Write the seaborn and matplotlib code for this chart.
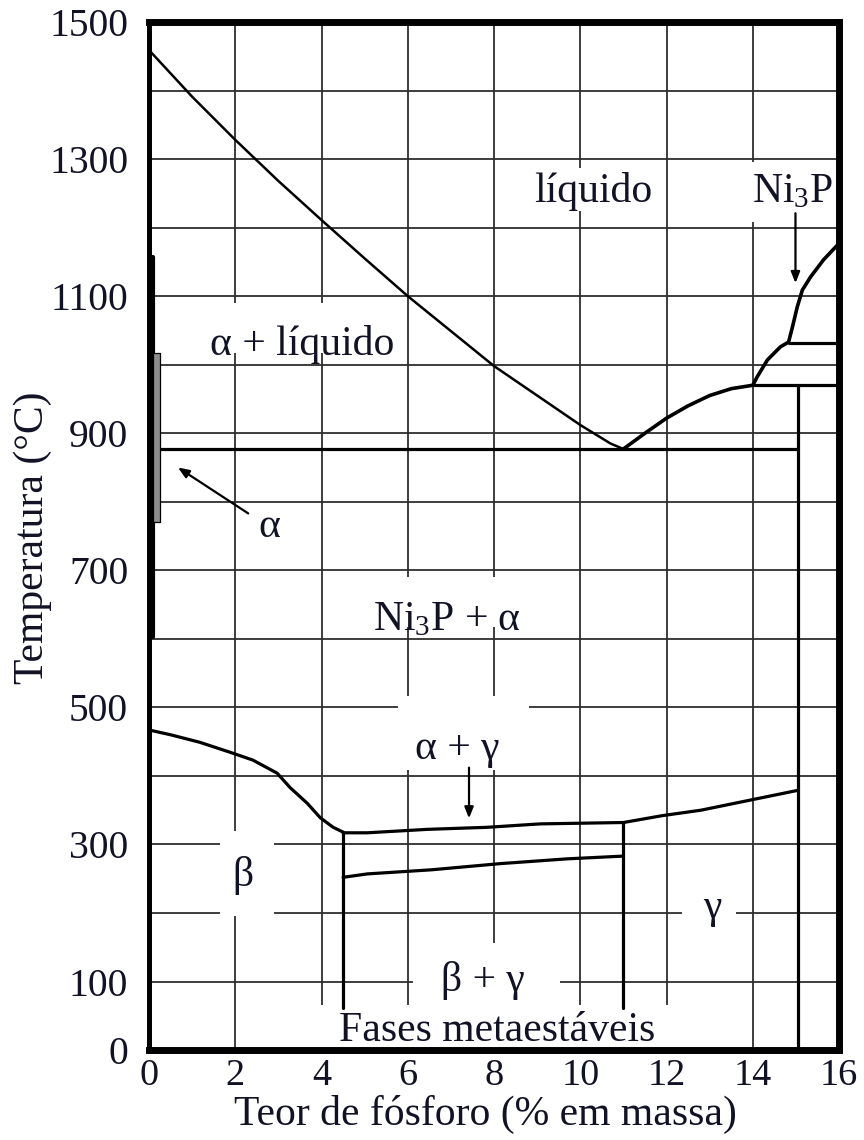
import matplotlib
matplotlib.use("Agg")
import matplotlib.pyplot as plt
from matplotlib.path import Path
import seaborn as sns

# Ni-P phase diagram: composition in wt% P, temperature in degC
liq_ni_x = [0.0, 0.5, 1.0, 2.0, 3.0, 4.0, 5.0, 6.0, 7.0, 8.0, 9.0, 10.0,
            10.7, 11.0]
liq_ni_t = [1459, 1425, 1391, 1328, 1268, 1211, 1155, 1100, 1049, 998,
            955, 912, 885, 877]

liq_p_x = [11.0, 11.5, 12.0, 12.5, 13.0, 13.5, 14.0, 14.1, 14.34, 14.64,
           14.83, 14.92, 15.03, 15.15, 15.34, 15.64, 16.0]
liq_p_t = [877, 900, 922, 940, 955, 965, 970, 982, 1007, 1026,
           1033, 1055, 1084, 1109, 1128, 1153, 1177]

eutectic_x = [0.22, 15.05]
eutectic_t = [877, 877]

ni3p_x = [15.05, 15.05]
ni3p_t = [970, 0]

upper_iso_x = [14.83, 16.0]
upper_iso_t = [1031, 1031]
lower_iso_x = [14.0, 16.0]
lower_iso_t = [970, 970]

alpha_solvus_x = [0.09, 0.09]
alpha_solvus_t = [602, 1157]
alpha_band_x = [0.10, 0.25]
alpha_band_t = [770, 1017]

beta_x = [0.0, 0.5, 1.18, 1.95, 2.41, 2.97, 3.27, 3.67, 3.97, 4.27, 4.5]
beta_t = [467, 460, 449, 433, 423, 404, 383, 360, 339, 325, 318]

gamma_x = [4.5, 5.06, 6.45, 7.84, 9.07, 11.0, 11.9, 12.8, 15.05]
gamma_t = [317, 317, 322, 325, 330, 332, 342, 350, 379]

beta_gamma_x = [4.5, 5.06, 6.55, 8.14, 9.7, 11.0]
beta_gamma_t = [252, 257, 263, 272, 279, 283]

beta_edge_x = [4.5, 4.5]
beta_edge_t = [318, 62]
gamma_edge_x = [11.0, 11.0]
gamma_edge_t = [332, 62]

x_ticks = list(range(0, 17, 2))
y_grid = list(range(0, 1501, 100))
y_labels = ["0", "100", "", "300", "", "500", "", "700", "", "900", "",
            "1100", "", "1300", "", "1500"]

sns.set_theme(style="white")
plt.rcParams["font.family"] = ["Liberation Serif", "DejaVu Serif"]
plt.rcParams["mathtext.fontset"] = "custom"
plt.rcParams["mathtext.rm"] = "Liberation Serif"
plt.rcParams["mathtext.it"] = "Liberation Serif:italic"

INK = "#121226"

fig = plt.figure(figsize=(8.64, 11.4), dpi=100)
ax = fig.add_axes([0.1725, 0.0789, 0.7986, 0.9018])
ax.set_xlim(0, 16)
ax.set_ylim(0, 1500)
ax.set_xticks(x_ticks)
ax.set_yticks(y_grid)
ax.set_yticklabels(y_labels)
ax.tick_params(axis="both", length=0, colors=INK)
ax.tick_params(axis="y", pad=15, labelsize=28.5)
ax.tick_params(axis="x", pad=6, labelsize=27.5)
ax.set_axisbelow(True)
ax.grid(True, color="#2e2e2e", lw=1.3)
for side, sp in ax.spines.items():
    sp.set_color("black")
    sp.set_linewidth(3.6 if side == "left" else 5)
    sp.set_zorder(5)

line_kw = dict(color="black", sort=False, estimator=None, ax=ax, legend=False)
sns.lineplot(x=liq_ni_x, y=liq_ni_t, lw=1.8, **line_kw)
sns.lineplot(x=liq_p_x, y=liq_p_t, lw=2.6, **line_kw)
for xs, ts in [(eutectic_x, eutectic_t), (ni3p_x, ni3p_t),
               (upper_iso_x, upper_iso_t), (lower_iso_x, lower_iso_t),
               (beta_x, beta_t), (gamma_x, gamma_t),
               (beta_gamma_x, beta_gamma_t), (beta_edge_x, beta_edge_t),
               (gamma_edge_x, gamma_edge_t)]:
    sns.lineplot(x=xs, y=ts, lw=2.3, **line_kw)
sns.lineplot(x=alpha_solvus_x, y=alpha_solvus_t, lw=3.0, **line_kw)
ax.fill_betweenx(alpha_band_t, alpha_band_x[0], alpha_band_x[1],
                 facecolor="#8e8e8e", edgecolor="black", lw=0.9, zorder=3)


def clear_box(left, right, bottom, top):
    """Rectangular white backdrop with separate padding on each side."""
    def style(x0, y0, width, height, mutation_size):
        m = mutation_size
        xa, xb = x0 - left * m, x0 + width + right * m
        ya, yb = y0 - bottom * m, y0 + height + top * m
        return Path([(xa, ya), (xb, ya), (xb, yb), (xa, yb), (xa, ya)],
                    closed=True)
    return style


def label(x, y, s, pads=None, size=30):
    kw = dict(ha="center", va="center", fontsize=size, color=INK, zorder=1.5)
    if pads is not None:
        kw["bbox"] = dict(boxstyle=clear_box(*pads), facecolor="white",
                          edgecolor="none")
    ax.text(x, y, s, **kw)


label(10.31, 1252, "líquido", (0.05, 0.05, 0.0, 0.1))
label(14.92, 1252, "Ni$_3$P", (1.15, -0.2, 0.25, 0.25))
label(3.55, 1030, "α + líquido", (0.2, 0.1, -0.25, 0.52))
label(2.8, 763, "α")
label(6.9, 628, "Ni$_3$P + α", (0.3, 0.3, -0.28, 0.55))
label(7.15, 440, "α + γ", (0.4, 0.7, 0.05, 0.8))
label(2.18, 255, "β", (0.3, 0.5, 0.5, 0.6))
label(13.06, 208, "γ", (0.5, 0.35, 0.05, 0.05))
label(7.73, 101, "β + γ", (0.65, 0.85, 0.3, 0.45))
label(8.07, 28, "Fases metaestáveis", (0.55, 0.5, 0.2, 0.15))

arrow = dict(arrowstyle="-|>,head_length=0.55,head_width=0.22",
             color="black", lw=1.6, shrinkA=0, shrinkB=0)
ax.annotate("", xy=(14.99, 1119), xytext=(14.99, 1221), arrowprops=arrow,
            zorder=4)
ax.annotate("", xy=(7.42, 338), xytext=(7.42, 412), arrowprops=arrow,
            zorder=4)
ax.annotate("", xy=(0.67, 850), xytext=(2.3, 783), arrowprops=arrow,
            zorder=4)

ax.set_xlabel("Teor de fósforo (% em massa)", fontsize=30, color=INK)
ax.set_ylabel("Temperatura (°C)", fontsize=30, color=INK)
ax.xaxis.set_label_coords(0.487, -0.044)
ax.yaxis.set_label_coords(-0.141, 0.498)

fig.savefig("out.png", dpi=100)
